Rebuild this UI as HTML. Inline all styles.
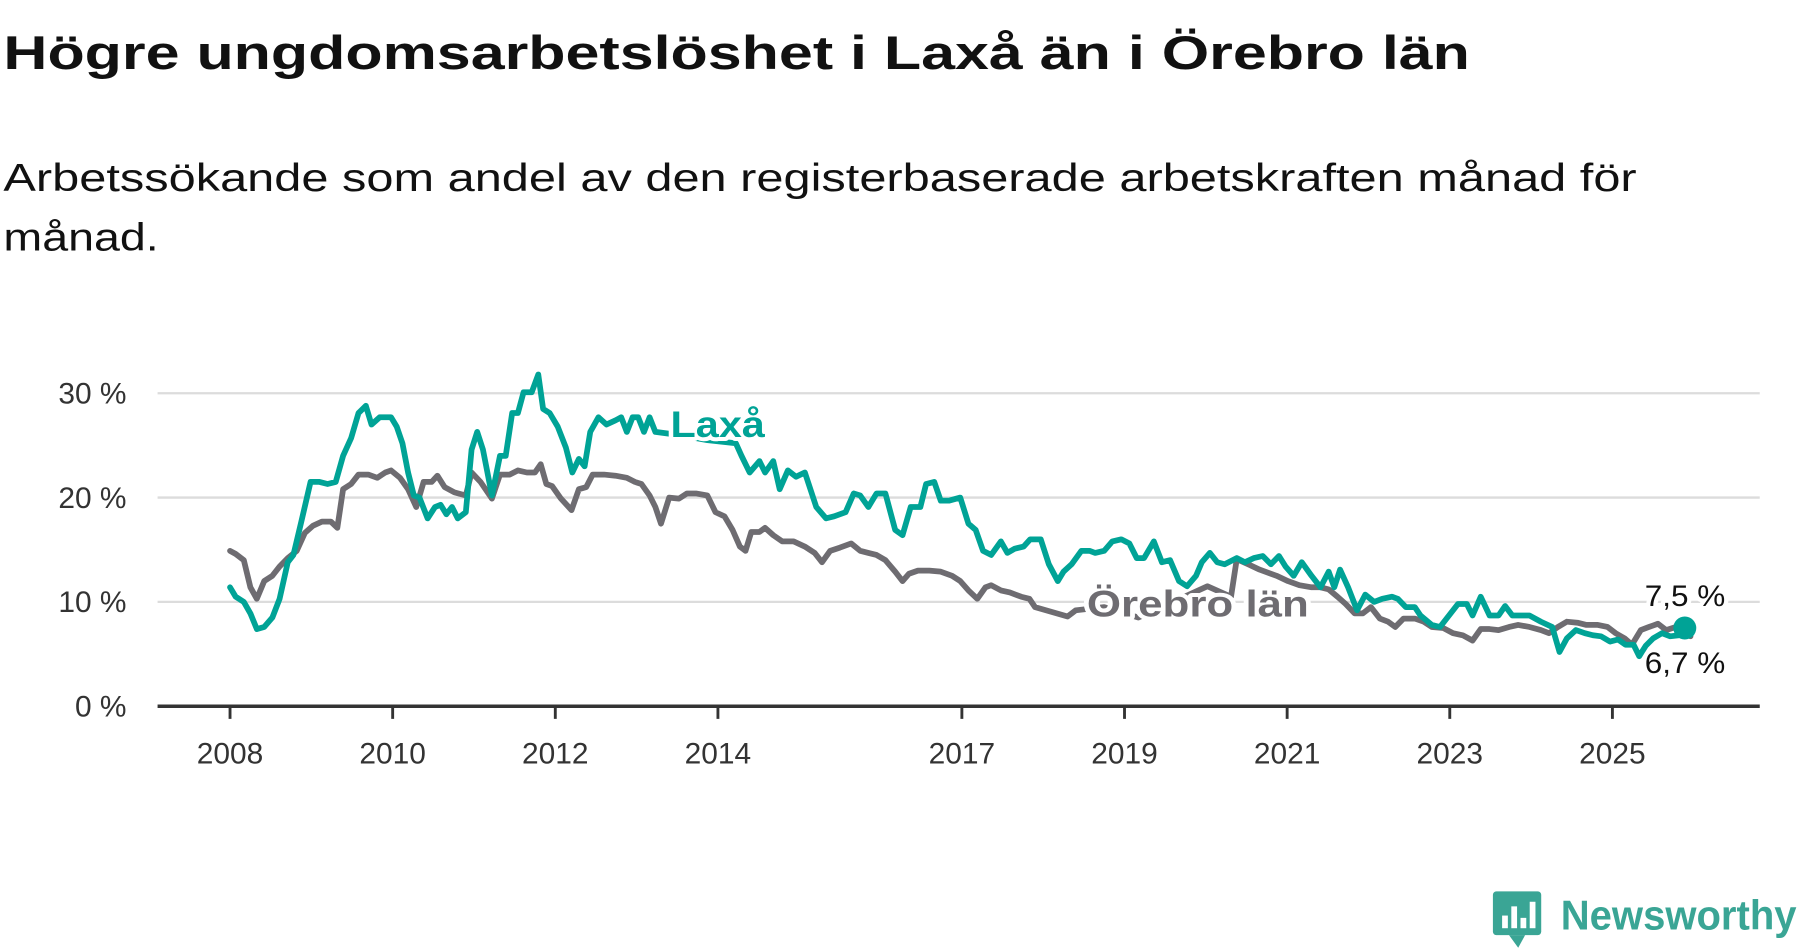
<!DOCTYPE html>
<html><head><meta charset="utf-8"><style>
html,body{margin:0;padding:0;background:#fff;}
svg{display:block;font-family:"Liberation Sans",sans-serif;}
</style></head><body>
<svg id="chart" width="1800" height="948" viewBox="0 0 1565 824.2" preserveAspectRatio="none" xmlns="http://www.w3.org/2000/svg">
<text x="3" y="60" font-size="41" font-weight="bold" fill="#111" textLength="1275" lengthAdjust="spacingAndGlyphs">Högre ungdomsarbetslöshet i Laxå än i Örebro län</text>
<text x="3" y="166" font-size="34" fill="#111" textLength="1420" lengthAdjust="spacingAndGlyphs">Arbetssökande som andel av den registerbaserade arbetskraften månad för</text>
<text x="3" y="218" font-size="34" fill="#111" textLength="135" lengthAdjust="spacingAndGlyphs">månad.</text>
<g id="grid"></g><g id="xaxis"></g><g id="series"></g><g id="labels"></g>
<g>
<rect x="1298" y="775" width="42" height="38" rx="3" fill="#3aa595"/>
<path d="M1312 813 L1320 824 L1326 813 Z" fill="#3aa595"/>
<rect x="1306" y="796" width="5" height="11" fill="#fff"/><rect x="1314" y="788" width="5" height="19" fill="#fff"/><rect x="1322" y="798" width="5" height="9" fill="#fff"/><rect x="1330" y="784" width="5" height="23" fill="#fff"/>
<text x="1357" y="808" font-size="36" font-weight="bold" fill="#3aa595" textLength="205" lengthAdjust="spacingAndGlyphs">Newsworthy</text>
</g>
</svg>
<script>
const laxaDates=[0,.07,.17,.25,.33,.42,.52,.61,.71,.78,.88,.99,1.10,1.20,1.30,1.39,1.49,1.58,1.67,1.74,1.84,1.98,2.05,2.12,2.19,2.26,2.33,2.43,2.52,2.59,2.66,2.73,2.80,2.90,2.97,3.04,3.11,3.22,3.32,3.39,3.47,3.54,3.61,3.71,3.79,3.85,3.93,4.03,4.13,4.21,4.29,4.36,4.43,4.53,4.63,4.74,4.81,4.88,4.95,5.02,5.09,5.16,5.23,5.52,5.87,6.22,6.29,6.39,6.51,6.58,6.68,6.76,6.86,6.96,7.07,7.21,7.33,7.43,7.57,7.67,7.75,7.85,7.95,8.06,8.18,8.27,8.37,8.49,8.56,8.66,8.74,8.84,8.98,9.08,9.17,9.26,9.36,9.48,9.56,9.65,9.76,9.84,9.97,10.07,10.18,10.25,10.35,10.47,10.57,10.64,10.75,10.85,10.96,11.06,11.15,11.24,11.36,11.46,11.56,11.67,11.77,11.88,11.95,12.05,12.14,12.23,12.38,12.48,12.59,12.70,12.80,12.90,12.98,13.08,13.18,13.30,13.41,13.51,13.58,13.65,13.75,13.86,13.96,14.07,14.17,14.29,14.36,14.46,14.57,14.64,14.78,14.88,14.99,15.10,15.21,15.28,15.38,15.49,15.60,15.68,15.77,15.98,16.12,16.26,16.35,16.44,16.55,16.66,16.76,16.86,16.97,17.07,17.16,17.26,17.33,17.41,17.50,17.61,17.71,17.82,17.89];
const laxaValues=[11.4,10.5,10,8.9,7.4,7.6,8.5,10.3,13.8,14.5,17.8,21.5,21.5,21.3,21.5,24,25.7,28.1,28.8,27,27.7,27.7,26.8,25.2,22.4,20.2,20,18,19.1,19.3,18.4,19.1,18,18.6,24.6,26.3,24.6,20.2,24,24,28.1,28.1,30.1,30.1,31.8,28.5,28.1,26.8,24.8,22.4,23.7,23,26.3,27.7,27,27.4,27.7,26.3,27.7,27.7,26.3,27.7,26.3,26,25.5,25.2,24,22.4,23.5,22.4,23.5,20.8,22.6,22,22.4,19.1,18,18.2,18.6,20.4,20.2,19.1,20.4,20.4,16.9,16.4,19.1,19.1,21.3,21.5,19.7,19.7,20,17.5,16.9,14.9,14.5,15.8,14.7,15.1,15.3,16,16,13.6,12,12.9,13.6,14.9,14.9,14.7,14.9,15.8,16,15.6,14.2,14.2,15.8,13.8,14,12,11.5,12.5,13.8,14.7,13.8,13.6,14.2,13.8,14.2,14.4,13.6,14.4,13.4,12.5,13.8,12.5,11.4,12.9,11.4,13.1,11.4,9.2,10.7,10,10.3,10.5,10.3,9.5,9.5,8.7,7.8,7.6,8.7,9.8,9.8,8.7,10.5,8.7,8.7,9.6,8.7,8.7,8.1,7.6,5.2,6.5,7.3,7,6.8,6.7,6.2,6.4,5.9,5.9,4.8,5.8,6.5,7,6.7,6.8,7.5];
const orebroDates=[0,.07,.17,.25,.33,.42,.52,.61,.71,.82,.92,1.02,1.13,1.24,1.32,1.39,1.49,1.58,1.70,1.81,1.91,1.98,2.09,2.19,2.29,2.38,2.48,2.55,2.64,2.76,2.90,2.97,3.08,3.22,3.32,3.44,3.54,3.65,3.75,3.82,3.89,3.96,4.07,4.20,4.29,4.38,4.46,4.60,4.74,4.88,4.98,5.06,5.16,5.23,5.30,5.40,5.52,5.62,5.73,5.87,5.97,6.08,6.18,6.27,6.34,6.41,6.51,6.58,6.68,6.79,6.93,7.07,7.19,7.28,7.38,7.50,7.64,7.75,7.85,7.95,8.06,8.18,8.27,8.35,8.46,8.60,8.74,8.88,8.98,9.08,9.19,9.29,9.36,9.48,9.59,9.73,9.83,9.90,10.30,10.40,10.75,11.17,11.60,12.02,12.31,12.38,12.52,12.66,12.87,13.01,13.15,13.30,13.41,13.51,13.62,13.72,13.83,13.93,14.03,14.14,14.24,14.33,14.43,14.57,14.68,14.78,14.92,15.04,15.16,15.28,15.38,15.49,15.60,15.73,15.84,15.98,16.12,16.22,16.33,16.44,16.57,16.68,16.82,16.94,17.04,17.15,17.24,17.35,17.45,17.56,17.66,17.78,17.89,17.96];
const orebroValues=[14.9,14.6,14,11.4,10.3,12,12.5,13.4,14.2,14.9,16.6,17.3,17.7,17.7,17.1,20.8,21.3,22.2,22.2,21.9,22.4,22.6,21.9,20.8,19.1,21.5,21.5,22.1,21,20.5,20.2,22.4,21.5,19.9,22.2,22.2,22.6,22.4,22.4,23.2,21.3,21.1,19.9,18.8,20.8,21,22.2,22.2,22.1,21.9,21.5,21.3,20.2,19.1,17.5,20,19.9,20.4,20.4,20.2,18.6,18.2,16.9,15.3,14.9,16.7,16.7,17.1,16.4,15.8,15.8,15.3,14.7,13.8,14.9,15.2,15.6,14.9,14.7,14.5,14,12.9,12,12.7,13,13,12.9,12.5,12,11.1,10.3,11.4,11.6,11.1,10.9,10.5,10.3,9.5,8.6,9.2,9.5,8.5,10,11.5,10.5,14.1,13.6,13.1,12.5,12,11.6,11.4,11.4,11.2,10.5,9.8,8.9,8.9,9.5,8.4,8.1,7.6,8.4,8.4,8.1,7.6,7.5,7,6.8,6.3,7.4,7.4,7.3,7.6,7.8,7.6,7.3,7,7.6,8.1,8,7.8,7.8,7.6,7,6.5,5.9,7.3,7.6,7.9,7.3,7.6,7.3,6.7];
const yTicks=[0,10,20,30];
const yTickLabels=["0 %","10 %","20 %","30 %"];
const xTicks=[2008,2010,2012,2014,2017,2019,2021,2023,2025];
const startYear=2008;
const NS="http://www.w3.org/2000/svg";
const X0=200, PX_PER_YEAR=70.7, Y0=614, PX_PER_UNIT=9.07;
function xScale(year){return X0+(year-startYear)*PX_PER_YEAR;}
function yScale(v){return Y0-v*PX_PER_UNIT;}
function mk(tag,attrs,parent){const e=document.createElementNS(NS,tag);for(const k in attrs)e.setAttribute(k,attrs[k]);parent.appendChild(e);return e;}
const grid=document.getElementById('grid');
yTicks.forEach((t,i)=>{
  if(t>0){const l=mk('line',{x1:137,x2:1530,y1:yScale(t),y2:yScale(t),stroke:'#dcdcdc','stroke-width':2},grid);
  
  }
  const tx=mk('text',{x:110,y:yScale(t)+9,'text-anchor':'end','font-size':26,fill:'#333'},grid);
  tx.textContent=yTickLabels[i];
  
  
});
const xa=document.getElementById('xaxis');
const axl=mk('line',{x1:137,x2:1530,y1:Y0,y2:Y0,stroke:'#333','stroke-width':3},xa);


xTicks.forEach(y=>{
  const x=xScale(y);
  const tk=mk('line',{x1:x,x2:x,y1:Y0,y2:Y0+11,stroke:'#333','stroke-width':2.5},xa);
  
  
  const tx=mk('text',{x:x,y:664,'text-anchor':'middle','font-size':26,fill:'#333'},xa);
  tx.textContent=String(y);
  
  
});
const sg=document.getElementById('series');
function line(dates,vals,color,name){
  const d=dates.map((t,i)=>(i?'L':'M')+xScale(startYear+t).toFixed(1)+' '+yScale(vals[i]).toFixed(1)).join(' ');
  const p=mk('path',{d:d,fill:'none',stroke:color,'stroke-width':5,'stroke-linejoin':'round','stroke-linecap':'round'},sg);
  
  
}
line(orebroDates,orebroValues,'#6e6c71','orebro-line');
line(laxaDates,laxaValues,'#00a396','laxa-line');
const lastI=laxaDates.length-1;
const dot=mk('circle',{cx:xScale(startYear+laxaDates[lastI]),cy:yScale(laxaValues[lastI]),r:10,fill:'#00a396'},sg);


const lg=document.getElementById('labels');
function lbl(x,y,txt,color,size,bold,name,len){
  const a={x:x,y:y,'font-size':size,fill:color,stroke:'#fff','stroke-width':7,'paint-order':'stroke','stroke-linejoin':'round'};
  if(bold)a['font-weight']='bold';
  if(len){a.textLength=len;a.lengthAdjust='spacingAndGlyphs';}
  const t=mk('text',a,lg);t.textContent=txt;
  
  
}
lbl(583,380,'Laxå','#00a396',32,true,'laxa-series-label',82);
lbl(945,536,'Örebro län','#6e6c71',32,true,'orebro-series-label',193);
lbl(1430,527,'7,5 %','#111',26,false,'laxa-end-value',70);
lbl(1430,585,'6,7 %','#111',26,false,'orebro-end-value',70);
</script>
</body></html>
